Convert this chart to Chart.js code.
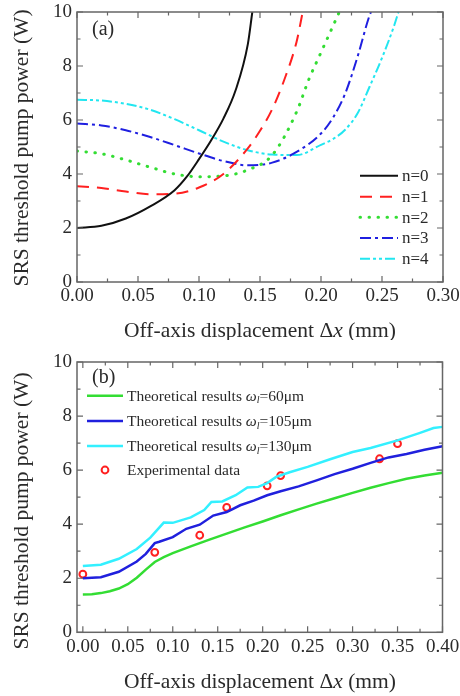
<!DOCTYPE html>
<html>
<head>
<meta charset="utf-8">
<script src="https://cdn.jsdelivr.net/npm/chart.js"></script>
<style>
  body { margin: 0; background: #fff; }
  canvas { position: absolute; left: 0; }
</style>
</head>
<body>
<canvas id="chartA" width="460" height="340" style="top:0"></canvas>
<canvas id="chartB" width="460" height="356" style="top:340px"></canvas>
<script>
// ---- panel (a): threshold vs offset for modes n=0..4
const xN0 = [0, 0.02, 0.04, 0.06, 0.08, 0.09, 0.10, 0.11, 0.12, 0.13, 0.14, 0.1437];
const yN0 = [2.0, 2.08, 2.35, 2.8, 3.4, 3.9, 4.55, 5.25, 6.05, 7.1, 8.8, 10];
const xN1 = [0, 0.02, 0.04, 0.06, 0.08, 0.10, 0.12, 0.14, 0.15, 0.16, 0.17, 0.18, 0.185];
const yN1 = [3.55, 3.48, 3.35, 3.25, 3.27, 3.5, 4.0, 4.95, 5.6, 6.4, 7.5, 8.9, 10];
const xN2 = [0, 0.02, 0.04, 0.06, 0.08, 0.10, 0.12, 0.14, 0.16, 0.18, 0.19, 0.20, 0.21, 0.215];
const yN2 = [4.85, 4.75, 4.52, 4.25, 4.0, 3.9, 3.93, 4.15, 4.7, 6.3, 7.5, 8.5, 9.5, 10];
const xN3 = [0, 0.02, 0.04, 0.06, 0.08, 0.10, 0.12, 0.14, 0.16, 0.18, 0.20, 0.21, 0.22, 0.23, 0.24, 0.241];
const yN3 = [5.87, 5.8, 5.62, 5.37, 5.07, 4.76, 4.48, 4.32, 4.42, 4.82, 5.5, 6.1, 7.0, 8.35, 9.9, 10];
const xN4 = [0, 0.02, 0.04, 0.06, 0.08, 0.10, 0.12, 0.14, 0.16, 0.18, 0.20, 0.21, 0.22, 0.23, 0.24, 0.25, 0.26, 0.2635];
const yN4 = [6.75, 6.72, 6.6, 6.38, 6.03, 5.62, 5.2, 4.88, 4.72, 4.7, 5.08, 5.3, 5.65, 6.25, 7.25, 8.3, 9.5, 10];
const modeLabels = ['n=0', 'n=1', 'n=2', 'n=3', 'n=4'];
const xTicksA = [0, 0.05, 0.10, 0.15, 0.20, 0.25, 0.30];

// ---- panel (b): theory for three pump radii + experiment
const xW60 = [0, 0.01, 0.02, 0.03, 0.04, 0.05, 0.06, 0.07, 0.08, 0.09, 0.10, 0.12, 0.14, 0.16, 0.18, 0.20, 0.22, 0.24, 0.26, 0.28, 0.30, 0.32, 0.34, 0.36, 0.38, 0.40];
const yW60 = [1.4, 1.41, 1.45, 1.52, 1.62, 1.78, 2.02, 2.32, 2.6, 2.78, 2.93, 3.18, 3.42, 3.65, 3.88, 4.1, 4.33, 4.55, 4.76, 4.96, 5.16, 5.35, 5.52, 5.68, 5.8, 5.9];
const xW105 = [0, 0.02, 0.04, 0.06, 0.07, 0.08, 0.085, 0.10, 0.115, 0.13, 0.145, 0.16, 0.175, 0.19, 0.205, 0.22, 0.24, 0.26, 0.28, 0.30, 0.32, 0.34, 0.36, 0.38, 0.40];
const yW105 = [2.0, 2.04, 2.24, 2.62, 2.9, 3.3, 3.35, 3.52, 3.83, 3.98, 4.32, 4.45, 4.7, 4.87, 5.07, 5.22, 5.4, 5.62, 5.85, 6.05, 6.27, 6.47, 6.6, 6.75, 6.88];
const xW130 = [0, 0.02, 0.04, 0.06, 0.075, 0.09, 0.10, 0.12, 0.135, 0.143, 0.155, 0.17, 0.183, 0.195, 0.205, 0.215, 0.23, 0.25, 0.275, 0.30, 0.32, 0.35, 0.375, 0.39, 0.40];
const yW130 = [2.45, 2.5, 2.72, 3.08, 3.5, 4.06, 4.05, 4.25, 4.52, 4.82, 4.84, 5.07, 5.36, 5.38, 5.52, 5.75, 5.92, 6.12, 6.4, 6.67, 6.82, 7.1, 7.38, 7.56, 7.6];
const xExp = [0, 0.08, 0.13, 0.16, 0.205, 0.22, 0.33, 0.35];
const yExp = [2.15, 2.96, 3.59, 4.62, 5.42, 5.8, 6.42, 6.98];
const radiusLabels = ['60μm', '105μm', '130μm'];
const xTicksB = [0, 0.05, 0.10, 0.15, 0.20, 0.25, 0.30, 0.35, 0.40];

const yTicks = [0, 2, 4, 6, 8, 10];

const FONT = 'Liberation Serif';
const INK = '#2a2a2a';
const FRAME = '#666';

Chart.defaults.font.family = FONT;
Chart.defaults.color = INK;

const pts = (xs, ys) => xs.map((x, i) => ({ x: x, y: ys[i] }));

function line(data, color, dash, width, cap) {
  return {
    data: data, borderColor: color, borderWidth: width, borderDash: dash,
    borderCapStyle: cap || 'butt', pointRadius: 0, fill: false,
    cubicInterpolationMode: 'monotone'
  };
}

function scalesFor(xMin, xMax, xTicks, xHeight) {
  return {
    x: {
      type: 'linear', min: xMin, max: xMax,
      afterBuildTicks: s => { s.ticks = xTicks.map(v => ({ value: v })); },
      afterFit: s => { s.height = xHeight; s.paddingLeft = 0; s.paddingRight = 0; },
      ticks: { callback: v => v.toFixed(2), font: { size: 19 }, padding: 3, maxRotation: 0, autoSkip: false },
      grid: { display: false, drawTicks: false }, border: { display: false }
    },
    y: {
      min: 0, max: 10,
      afterBuildTicks: s => { s.ticks = yTicks.map(v => ({ value: v })); },
      afterFit: s => { s.width = 77; s.paddingTop = 0; s.paddingBottom = 0; },
      ticks: { font: { size: 19 }, padding: 5 },
      grid: { display: false, drawTicks: false }, border: { display: false }
    }
  };
}

// frame, inward ticks on all four sides, axis titles
function drawFrame(chart, xTitleY, yTitleY) {
  const { ctx, chartArea: a, scales: { x, y } } = chart;
  ctx.save();
  ctx.strokeStyle = FRAME;
  ctx.lineWidth = 1.5;
  ctx.strokeRect(a.left, a.top, a.right - a.left, a.bottom - a.top);
  ctx.lineWidth = 1.2;
  const majMin = vals => {
    const out = vals.map(v => [v, 6]);
    for (let i = 0; i < vals.length - 1; i++) out.push([(vals[i] + vals[i + 1]) / 2, 3.5]);
    return out;
  };
  ctx.beginPath();
  majMin(x.ticks.map(t => t.value)).forEach(([v, l]) => {
    const px = x.getPixelForValue(v);
    ctx.moveTo(px, a.bottom); ctx.lineTo(px, a.bottom - l);
    ctx.moveTo(px, a.top); ctx.lineTo(px, a.top + l);
  });
  majMin(y.ticks.map(t => t.value)).forEach(([v, l]) => {
    const py = y.getPixelForValue(v);
    ctx.moveTo(a.left, py); ctx.lineTo(a.left + l, py);
    ctx.moveTo(a.right, py); ctx.lineTo(a.right - l, py);
  });
  ctx.stroke();

  ctx.fillStyle = INK;
  ctx.save();
  ctx.translate(22, yTitleY);
  ctx.rotate(-Math.PI / 2);
  ctx.font = '21.5px ' + FONT;
  ctx.textAlign = 'center';
  ctx.textBaseline = 'middle';
  ctx.fillText('SRS threshold pump power (W)', 0, 0);
  ctx.restore();

  const parts = [['Off-axis displacement Δ', ''], ['x', 'italic '], [' (mm)', '']];
  let total = 0;
  parts.forEach(p => { ctx.font = p[1] + '21.5px ' + FONT; total += ctx.measureText(p[0]).width; });
  let cx = 260 - total / 2;
  ctx.textAlign = 'left';
  ctx.textBaseline = 'middle';
  parts.forEach(p => {
    ctx.font = p[1] + '21.5px ' + FONT;
    ctx.fillText(p[0], cx, xTitleY);
    cx += ctx.measureText(p[0]).width;
  });
  ctx.restore();
}

function sample(ctx, ds, x0, x1, yy) {
  ctx.save();
  ctx.strokeStyle = ds.borderColor;
  ctx.lineWidth = ds.borderWidth;
  ctx.setLineDash(ds.borderDash || []);
  ctx.lineCap = ds.borderCapStyle || 'butt';
  ctx.beginPath(); ctx.moveTo(x0, yy); ctx.lineTo(x1, yy); ctx.stroke();
  ctx.restore();
}

const decoA = {
  id: 'decoA',
  afterDatasetsDraw(chart) {
    drawFrame(chart, 331, 148);
    const ctx = chart.ctx;
    ctx.save();
    ctx.fillStyle = INK;
    ctx.font = '20px ' + FONT;
    ctx.textBaseline = 'middle';
    ctx.fillText('(a)', 92, 30);
    ctx.font = '17px ' + FONT;
    const rows = [175.7, 196.7, 217.3, 238, 258.7];
    chart.data.datasets.forEach((ds, i) => {
      sample(ctx, ds, 360, 398, rows[i]);
      ctx.fillText(modeLabels[i], 402, rows[i] + 1);
    });
    ctx.restore();
  }
};

const decoB = {
  id: 'decoB',
  afterDatasetsDraw(chart) {
    drawFrame(chart, 342, 171);
    const ctx = chart.ctx;
    ctx.save();
    ctx.fillStyle = INK;
    ctx.font = '20px ' + FONT;
    ctx.textBaseline = 'middle';
    ctx.fillText('(b)', 92, 38);
    const rows = [55.7, 81, 106, 130];
    const ds = chart.data.datasets;
    for (let i = 0; i < 3; i++) {
      sample(ctx, ds[i], 87, 123, rows[i]);
      let cx = 127;
      const seg = (txt, font, dy) => {
        ctx.font = font;
        ctx.fillText(txt, cx, rows[i] + 1 + dy);
        cx += ctx.measureText(txt).width;
      };
      seg('Theoretical results ', '15.5px ' + FONT, 0);
      seg('ω', 'italic 15.5px ' + FONT, 0);
      seg('l', 'italic 10px ' + FONT, 4);
      seg('=' + radiusLabels[i], '15.5px ' + FONT, 0);
    }
    ctx.beginPath();
    ctx.arc(105, rows[3], 3.4, 0, Math.PI * 2);
    ctx.fillStyle = '#fff';
    ctx.fill();
    ctx.strokeStyle = ds[3].borderColor;
    ctx.lineWidth = ds[3].borderWidth;
    ctx.stroke();
    ctx.fillStyle = INK;
    ctx.font = '15.5px ' + FONT;
    ctx.fillText('Experimental data', 127, rows[3] + 1);
    ctx.restore();
  }
};

const common = {
  responsive: false, animation: false, devicePixelRatio: 1,
  plugins: { legend: { display: false }, tooltip: { enabled: false } }
};

new Chart(document.getElementById('chartA'), {
  type: 'line',
  data: {
    datasets: [
      line(pts(xN0, yN0), '#111111', [], 2),
      line(pts(xN1, yN1), '#ff2020', [12, 8], 2),
      line(pts(xN2, yN2), '#33dd33', [0.5, 8.5], 3, 'round'),
      line(pts(xN3, yN3), '#1f1fe0', [11, 4, 3, 4], 2),
      line(pts(xN4, yN4), '#22e6f0', [10, 3, 3, 3, 3, 3], 2)
    ]
  },
  options: Object.assign({}, common, {
    layout: { padding: { top: 12, right: 17, left: 0, bottom: 0 } },
    scales: scalesFor(0, 0.30, xTicksA, 58)
  }),
  plugins: [decoA]
});

new Chart(document.getElementById('chartB'), {
  type: 'line',
  data: {
    datasets: [
      Object.assign(line(pts(xW60, yW60), '#33dd33', [], 2.5), { cubicInterpolationMode: 'default', tension: 0 }),
      Object.assign(line(pts(xW105, yW105), '#2020dd', [], 2.5), { cubicInterpolationMode: 'default', tension: 0 }),
      Object.assign(line(pts(xW130, yW130), '#33f0ff', [], 2.5), { cubicInterpolationMode: 'default', tension: 0 }),
      {
        data: pts(xExp, yExp), showLine: false, pointStyle: 'circle',
        pointRadius: 3.4, borderColor: '#ff2020', borderWidth: 2,
        pointBackgroundColor: '#fff', backgroundColor: '#fff', clip: false
      }
    ]
  },
  options: Object.assign({}, common, {
    layout: { padding: { top: 22, right: 17.5, left: 0, bottom: 0 } },
    scales: scalesFor(-0.0065, 0.40, xTicksB, 63.7)
  }),
  plugins: [decoB]
});
</script>
</body>
</html>
